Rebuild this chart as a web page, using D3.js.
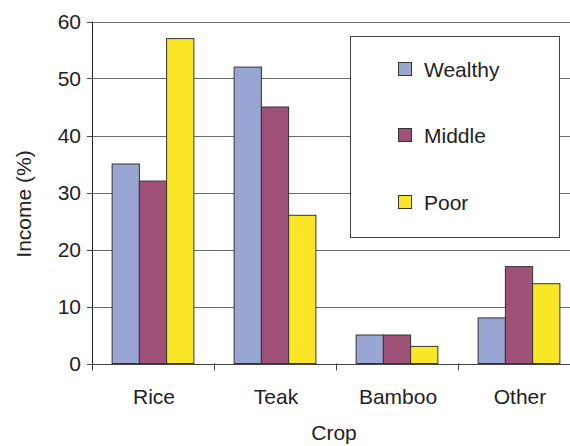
<!DOCTYPE html>
<html>
<head>
<meta charset="utf-8">
<script src="https://cdn.jsdelivr.net/npm/d3@7"></script>
<style>
  body { margin: 0; background: #fff; }
  svg { display: block; font-family: "Liberation Sans", Arial, sans-serif; }
</style>
</head>
<body>
<div id="chart"></div>
<script>
// Data
const crops = ["Rice", "Teak", "Bamboo", "Other"];
const groups = ["Wealthy", "Middle", "Poor"];
const wealthy = [35, 52, 5, 8];
const middle = [32, 45, 5, 17];
const poor = [57, 26, 3, 14];
const yTicks = [0, 10, 20, 30, 40, 50, 60];
const colors = ["#99a6d4", "#a05177", "#fbe625"];

const series = [wealthy, middle, poor];

const width = 570, height = 446;
const margin = { top: 21.5, left: 92, bottom: 82.5 };
const plotRight = 580;
const fontSize = 21;

const svg = d3.select("#chart").append("svg")
  .attr("width", width)
  .attr("height", height);

const x = d3.scaleBand()
  .domain(crops)
  .range([margin.left, plotRight])
  .paddingInner(0.33)
  .paddingOuter(0.165);

const x1 = d3.scaleBand()
  .domain(groups)
  .range([0, x.bandwidth()]);

const y = d3.scaleLinear()
  .domain([0, 60])
  .range([height - margin.bottom, margin.top]);

// gridlines
svg.append("g")
  .selectAll("line")
  .data(yTicks.filter(d => d > 0))
  .enter().append("line")
  .attr("x1", margin.left)
  .attr("x2", plotRight)
  .attr("y1", d => Math.round(y(d)) + 0.5)
  .attr("y2", d => Math.round(y(d)) + 0.5)
  .attr("stroke", "#6b6b6b")
  .attr("stroke-width", 1);

// bars
crops.forEach((c, i) => {
  const g = svg.append("g");
  groups.forEach((grp, j) => {
    g.append("rect")
      .attr("x", x(c) + x1(grp))
      .attr("y", y(series[j][i]))
      .attr("width", x1.bandwidth())
      .attr("height", y(0) - y(series[j][i]))
      .attr("fill", colors[j])
      .attr("stroke", "#333")
      .attr("stroke-width", 1);
  });
});

// y axis
const yAxis = svg.append("g");
yAxis.append("line")
  .attr("x1", margin.left + 0.5).attr("x2", margin.left + 0.5)
  .attr("y1", margin.top).attr("y2", y(0) + 6)
  .attr("stroke", "#222");
yAxis.selectAll(".tick")
  .data(yTicks)
  .enter().append("line")
  .attr("x1", margin.left - 5).attr("x2", margin.left)
  .attr("y1", d => Math.round(y(d)) + 0.5)
  .attr("y2", d => Math.round(y(d)) + 0.5)
  .attr("stroke", "#444");
yAxis.selectAll("text")
  .data(yTicks)
  .enter().append("text")
  .attr("x", 81)
  .attr("y", d => y(d) + 7)
  .attr("text-anchor", "end")
  .attr("font-size", fontSize)
  .attr("fill", "#222")
  .text(d => d);

// x axis
svg.append("line")
  .attr("x1", margin.left).attr("x2", plotRight)
  .attr("y1", Math.round(y(0)) + 0.5).attr("y2", Math.round(y(0)) + 0.5)
  .attr("stroke", "#444");
const step = x.step();
svg.selectAll(".xtick")
  .data(crops)
  .enter().append("line")
  .attr("x1", (d, i) => margin.left + i * step + 0.5)
  .attr("x2", (d, i) => margin.left + i * step + 0.5)
  .attr("y1", y(0))
  .attr("y2", y(0) + 7)
  .attr("stroke", "#444");
svg.selectAll(".xlabel")
  .data(crops)
  .enter().append("text")
  .attr("x", d => x(d) + x.bandwidth() / 2 + 1)
  .attr("y", 404)
  .attr("text-anchor", "middle")
  .attr("font-size", fontSize)
  .attr("fill", "#222")
  .text(d => d);

// axis titles
svg.append("text")
  .attr("x", 334)
  .attr("y", 440)
  .attr("text-anchor", "middle")
  .attr("font-size", fontSize)
  .attr("fill", "#222")
  .text("Crop");
svg.append("text")
  .attr("transform", "translate(31,204) rotate(-90)")
  .attr("text-anchor", "middle")
  .attr("font-size", fontSize)
  .attr("fill", "#222")
  .text("Income (%)");

// legend
const legend = svg.append("g");
legend.append("rect")
  .attr("x", 350.5).attr("y", 36.5)
  .attr("width", 209).attr("height", 201)
  .attr("fill", "#fff")
  .attr("stroke", "#444");
const legendY = [69, 135, 202];
groups.forEach((grp, j) => {
  legend.append("rect")
    .attr("x", 398.5).attr("y", legendY[j] - 6.5)
    .attr("width", 13).attr("height", 13)
    .attr("fill", colors[j])
    .attr("stroke", "#333");
  legend.append("text")
    .attr("x", 424)
    .attr("y", legendY[j] + 7.5)
    .attr("font-size", fontSize)
    .attr("fill", "#222")
    .text(grp);
});
</script>
</body>
</html>
